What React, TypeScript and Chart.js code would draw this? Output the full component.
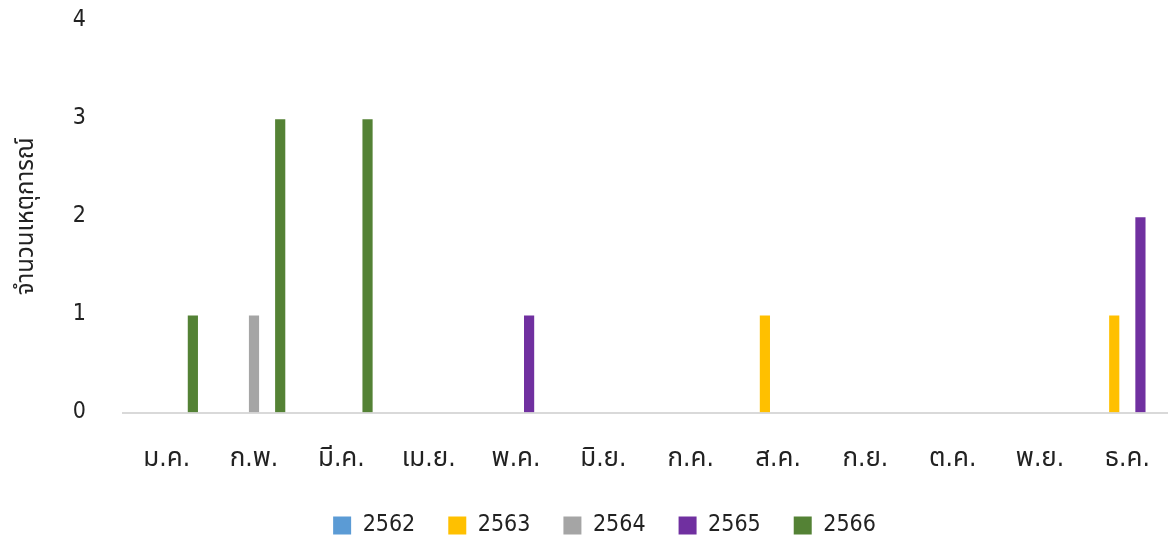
import React, { useEffect, useRef } from "react";
import { Chart, registerables } from "chart.js";

Chart.register(...registerables);

const months = ["ม.ค.", "ก.พ.", "มี.ค.", "เม.ย.", "พ.ค.", "มิ.ย.", "ก.ค.", "ส.ค.", "ก.ย.", "ต.ค.", "พ.ย.", "ธ.ค."];
const years = ["2562", "2563", "2564", "2565", "2566"];
const v2562 = [0, 0, 0, 0, 0, 0, 0, 0, 0, 0, 0, 0];
const v2563 = [0, 0, 0, 0, 0, 0, 0, 1, 0, 0, 0, 1];
const v2564 = [0, 1, 0, 0, 0, 0, 0, 0, 0, 0, 0, 0];
const v2565 = [0, 0, 0, 0, 1, 0, 0, 0, 0, 0, 0, 2];
const v2566 = [1, 3, 3, 0, 0, 0, 0, 0, 0, 0, 0, 0];
const colors = ["#5B9BD5", "#FFC000", "#A5A5A5", "#7030A0", "#548235"];
const yTitle = "จำนวนเหตุการณ์";

const FONT = "'DejaVu Sans Condensed', 'Noto Sans Thai', sans-serif";
const W = 1180;
const H = 547;

export default function App() {
  const ref = useRef<HTMLCanvasElement | null>(null);
  useEffect(() => {
    document.body.style.margin = "0";
    const series = [v2562, v2563, v2564, v2565, v2566];
    const shiftLegend = {
      id: "shiftLegend",
      afterLayout(chart: any) {
        if (chart.legend) {
          chart.legend.left += 16;
          chart.legend.right += 16;
        }
      },
    };
    const chart = new Chart(ref.current!, {
      type: "bar",
      data: {
        labels: months,
        datasets: years.map((y, i) => ({
          label: y,
          data: series[i],
          backgroundColor: colors[i],
          borderColor: "rgba(255,255,255,0.25)",
          borderWidth: 1,
          categoryPercentage: 0.75,
          barPercentage: 0.93,
        })),
      },
      options: {
        animation: false,
        responsive: false,
        layout: { padding: { top: 20, left: 6, right: 9, bottom: 0 } },
        plugins: {
          tooltip: { enabled: false },
          legend: {
            position: "bottom",
            labels: {
              boxWidth: 18,
              boxHeight: 18,
              padding: 33,
              color: "#222",
              font: { family: FONT, size: 23 },
              generateLabels: (chart: any) =>
                chart.data.datasets.map((d: any, i: number) => ({
                  text: d.label,
                  fillStyle: colors[i],
                  strokeStyle: colors[i],
                  lineWidth: 0,
                  datasetIndex: i,
                  fontColor: "#222",
                })),
            },
          },
        },
        scales: {
          x: {
            grid: { display: false, drawTicks: true, tickLength: 29 },
            border: { display: true, color: "#d9d9d9", width: 2 },
            ticks: { color: "#222", font: { family: FONT, size: 26 }, padding: 2, maxRotation: 0, autoSkip: false },
            afterFit: (scale: any) => {
              scale.height = 68.5;
            },
          },
          y: {
            min: 0,
            max: 4,
            grid: { display: false, drawTicks: true, tickLength: 35 },
            border: { display: false },
            ticks: { stepSize: 1, color: "#222", font: { family: FONT, size: 23 }, padding: 2 },
            title: {
              display: true,
              text: yTitle,
              color: "#222",
              font: { family: FONT, size: 24 },
              padding: { top: 6, bottom: 0 },
            },
            afterFit: (scale: any) => {
              scale.width = 117;
            },
          },
        },
      },
      plugins: [shiftLegend],
    });
    return () => chart.destroy();
  }, []);
  return (
    <div style={{ position: "fixed", left: 0, top: 0, width: 1168, height: 541, overflow: "hidden", background: "#fff" }}>
      <canvas ref={ref} width={W} height={H} style={{ display: "block", position: "absolute", left: 0, top: 0 }} />
    </div>
  );
}
